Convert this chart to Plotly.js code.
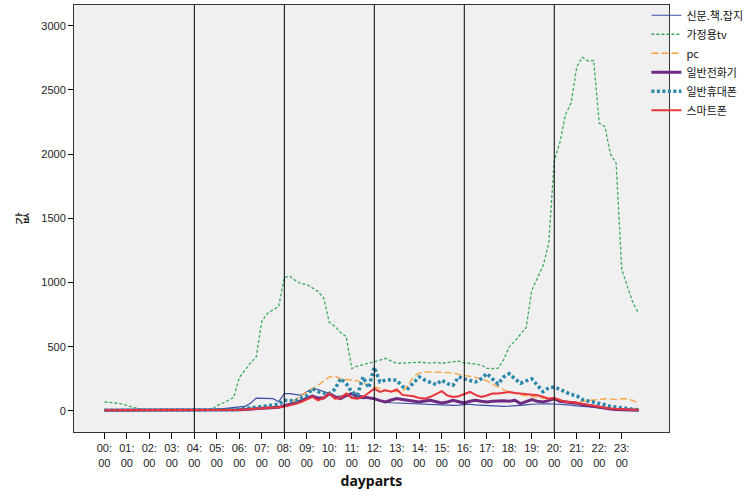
<!DOCTYPE html>
<html>
<head>
<meta charset="utf-8">
<script src="https://cdn.plot.ly/plotly-3.0.1.min.js"></script>
<style>html,body{margin:0;padding:0;background:#fff;}#chart{width:754px;height:497px;}</style>
</head>
<body>
<div id="chart"></div>
<script>
// ---- data ----
var hours = ["00","01","02","03","04","05","06","07","08","09","10","11","12","13","14","15","16","17","18","19","20","21","22","23"];
var quarters = ["00","15","30","45"];
var refHours = ["04","08","12","16","20"];

var seriesNames = ["신문.책.잡지","가정용tv","pc","일반전화기","일반휴대폰","스마트폰"];

var sinmun = [5,5,5,4,4,4,3,3,3,3,3,3,3,3,3,3,4,4,5,
  8,12,18,22,26,32,36,60,100,100,98,96,72,135,135,130,122,150,174,167,150,135,109,118,122,109,105,96,100,90,75,68,64,62,62,60,58,57,55,54,52,50,47,44,46,50,52,48,45,44,42,38,36,38,40,44,48,52,55,57,56,54,52,50,46,40,36,32,28,24,20,16,12,10,8,6,6];

var tv = [70,68,62,55,42,28,18,10,8,6,5,4,4,3,3,3,2,2,3,
  10,40,60,80,105,260,320,375,420,700,760,790,815,1040,1050,1015,990,985,960,930,880,690,660,610,580,330,350,360,370,380,395,410,390,370,372,375,378,380,376,372,378,370,378,383,388,375,372,365,358,332,330,332,400,500,545,595,650,940,1030,1130,1300,1950,2090,2310,2400,2680,2755,2725,2730,2240,2215,2000,1930,1100,970,840,760];

var pc = [3,3,3,3,3,3,3,3,3,3,3,3,3,3,3,3,3,3,3,
  4,5,6,8,10,12,14,16,18,20,22,25,28,35,60,90,120,150,175,200,230,265,270,250,245,240,235,215,200,190,170,160,155,150,155,200,270,295,304,304,302,300,298,295,285,275,270,262,250,235,210,185,165,150,135,125,118,112,105,100,95,85,78,72,70,70,75,78,85,92,95,92,90,95,95,80,65];

var phone = [5,5,5,5,5,5,5,5,5,5,5,5,5,5,5,5,5,5,5,
  5,5,6,7,8,10,12,14,16,18,20,24,28,40,50,62,80,100,115,100,100,135,110,96,120,135,115,109,100,96,80,70,85,96,90,83,75,70,78,83,72,62,70,83,72,62,75,83,75,70,75,78,80,75,83,57,70,88,75,70,80,96,75,70,68,60,50,42,35,28,20,15,12,10,8,6,5];

var cell = [5,5,5,5,5,5,5,5,5,5,5,5,5,5,5,5,5,5,5,
  5,6,8,10,10,14,18,22,26,32,40,46,52,83,80,78,100,120,174,150,140,135,170,252,213,148,122,265,180,340,226,240,244,239,190,174,220,265,240,226,205,239,213,200,265,250,239,226,250,291,250,210,265,290,250,216,235,250,200,150,180,187,168,145,128,118,90,78,70,60,48,36,30,26,18,10,8];

var smart = [6,6,6,6,6,6,6,6,6,6,6,6,6,6,6,6,6,6,6,
  6,6,7,8,8,10,12,14,16,18,20,24,28,35,44,55,70,90,109,83,100,135,96,100,135,100,96,109,140,174,148,161,150,167,125,118,115,100,96,110,135,154,120,109,115,130,148,125,109,120,135,135,140,148,140,135,135,128,122,110,96,100,85,70,70,62,52,44,38,30,25,20,16,14,12,10,10];

// ---- build ----
var cats = [];
hours.forEach(function(h){ quarters.forEach(function(q){ cats.push(h + ":" + q); }); });
var tickVals = hours.map(function(h){ return h + ":00"; });
var tickText = hours.map(function(h){ return h + ":<br>00"; });

var styles = [
  {color:"#3C4CA8", width:1.2, dash:"solid"},
  {color:"#3DAA5C", width:1.3, dash:"3px,2px"},
  {color:"#F7A23E", width:1.3, dash:"7px,3px"},
  {color:"#6E2A80", width:3, dash:"solid"},
  {color:"#2A88AA", width:3.5, dash:"3px,2.5px"},
  {color:"#E8353C", width:2, dash:"solid"}
];
var values = [sinmun, tv, pc, phone, cell, smart];

var traces = values.map(function(v, k){
  return {
    type:"scatter", mode:"lines", x:cats, y:v, name:seriesNames[k],
    line:{color:styles[k].color, width:styles[k].width, dash:styles[k].dash},
    hoverinfo:"x+y+name"
  };
});

var shapes = refHours.map(function(h){
  var idx = cats.indexOf(h + ":00");
  return {type:"line", xref:"x", yref:"paper", x0:idx, x1:idx, y0:0, y1:1,
          line:{color:"#000", width:1}, layer:"above"};
});

var fontMain = "Liberation Sans, Arial, 'Noto Sans CJK KR', sans-serif";

var layout = {
  width:754, height:497,
  margin:{l:74, r:85, t:5, b:65, autoexpand:false},
  paper_bgcolor:"#ffffff",
  plot_bgcolor:"#F0F0F0",
  font:{family:fontMain, size:11, color:"#222"},
  showlegend:true,
  legend:{x:0.962, xanchor:"left", y:1.01, yanchor:"top", bgcolor:"rgba(0,0,0,0)",
          font:{family:"'Noto Sans CJK KR', Liberation Sans, sans-serif", size:11, color:"#111"},
          itemwidth:30, tracegroupgap:0},
  xaxis:{
    type:"category", range:[-5.4, 100.4], tickmode:"array", tickvals:tickVals, ticktext:tickText,
    ticks:"outside", ticklen:6, tickcolor:"#000", showgrid:false, zeroline:false,
    showline:true, linecolor:"#333", linewidth:1, mirror:true,
    tickfont:{family:fontMain, size:11, color:"#222"},
    title:{text:"<b>dayparts</b>", font:{family:"'Noto Sans', Liberation Sans, sans-serif", size:14, color:"#111"}, standoff:8},
    automargin:false, fixedrange:true
  },
  yaxis:{
    range:[-164, 3162], tickmode:"linear", tick0:0, dtick:500,
    ticks:"outside", ticklen:5, tickcolor:"#000", showgrid:false, zeroline:false,
    showline:true, linecolor:"#333", linewidth:1, mirror:true,
    tickfont:{family:fontMain, size:11, color:"#222"},
    title:{text:"값", font:{family:"'Noto Sans CJK KR', sans-serif", size:14, color:"#111"}, standoff:10},
    automargin:false, fixedrange:true
  },
  shapes:shapes
};

Plotly.newPlot("chart", traces, layout, {displayModeBar:false, staticPlot:true});
</script>
</body>
</html>
